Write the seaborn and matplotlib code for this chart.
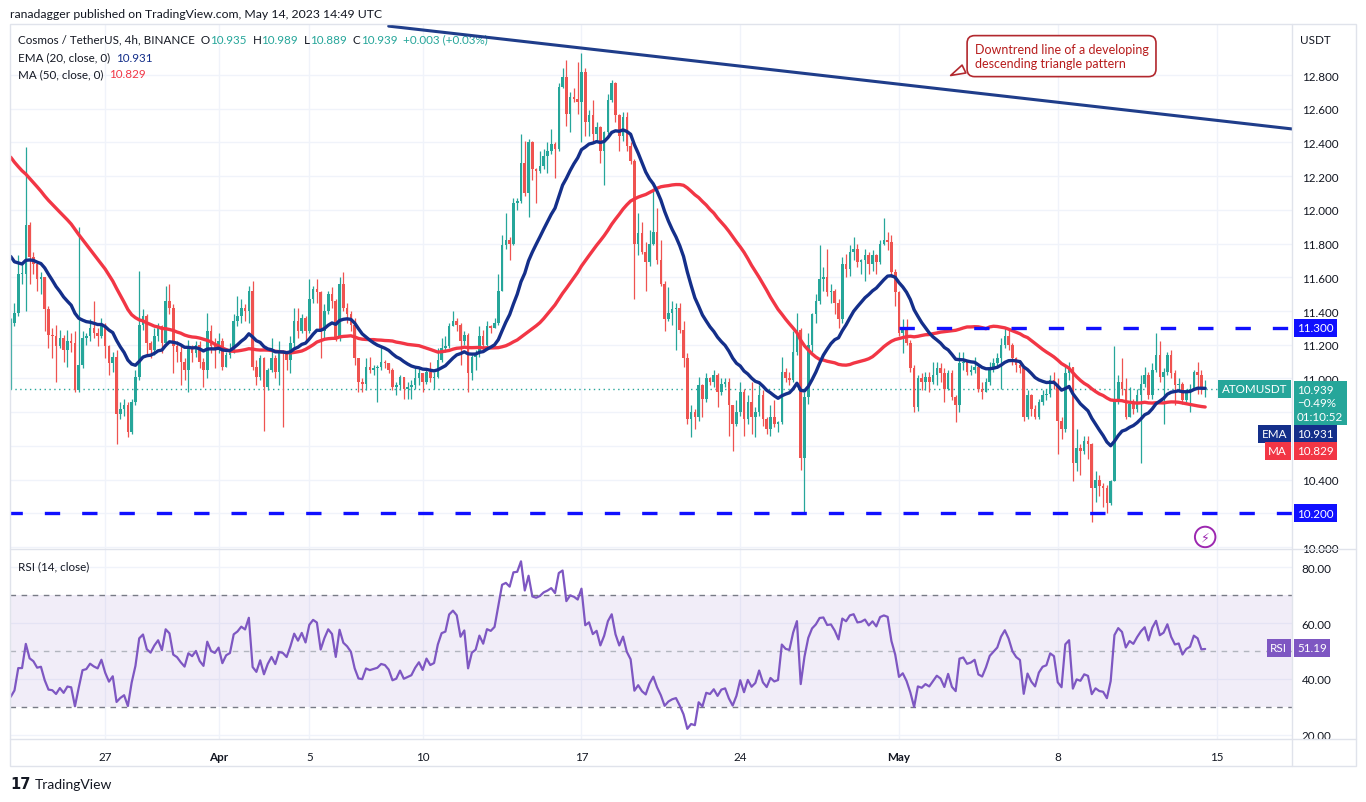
# ATOM/USDT 4h chart (TradingView style) with EMA20, MA50 and RSI14
import numpy as np
import pandas as pd
import matplotlib
matplotlib.use("Agg")
import matplotlib.pyplot as plt
import matplotlib.transforms as mtransforms
from matplotlib.lines import Line2D
from matplotlib.patches import Rectangle
from matplotlib.ticker import FormatStrFormatter, FuncFormatter
import seaborn as sns

# ---- data (4h candles, first candle 2023-03-22 20:00 UTC) ----
start_time = "2023-03-22 20:00"
first_open = 11.30

close = [
    11.33, 11.39, 11.62, 11.62, 11.91, 11.72, 11.68, 11.59, 11.60, 11.41,
    11.26, 11.25, 11.19, 11.24, 11.17, 11.22, 11.21, 10.93, 11.08, 11.24,
    11.25, 11.30, 11.27, 11.25, 11.32, 11.19, 11.09, 11.13, 10.79, 10.82,
    10.84, 10.68, 10.86, 11.01, 11.32, 11.37, 11.21, 11.17, 11.25, 11.31,
    11.21, 11.46, 11.42, 11.19, 11.16, 11.10, 11.05, 11.18, 11.15, 11.20,
    11.10, 11.05, 11.28, 11.19, 11.17, 11.22, 11.07, 11.14, 11.16, 11.34,
    11.37, 11.42, 11.40, 11.52, 11.07, 11.01, 11.12, 10.95, 11.05, 11.12,
    11.04, 11.16, 11.15, 11.11, 11.21, 11.34, 11.28, 11.36, 11.28, 11.47,
    11.53, 11.51, 11.28, 11.40, 11.50, 11.46, 11.24, 11.56, 11.42, 11.38,
    11.32, 11.12, 10.98, 10.97, 11.07, 11.05, 11.06, 11.07, 11.10, 11.09,
    11.05, 10.95, 10.96, 11.01, 10.94, 10.95, 10.96, 11.00, 11.03, 10.98,
    11.04, 11.00, 11.01, 11.11, 11.18, 11.19, 11.31, 11.34, 11.32, 11.22,
    11.26, 11.03, 11.13, 11.15, 11.25, 11.20, 11.31, 11.30, 11.33, 11.52,
    11.79, 11.82, 11.80, 12.04, 12.05, 12.28, 12.10, 12.40, 12.24, 12.23,
    12.26, 12.32, 12.35, 12.39, 12.36, 12.73, 12.79, 12.57, 12.67, 12.66,
    12.64, 12.82, 12.52, 12.56, 12.45, 12.49, 12.35, 12.46, 12.65, 12.75,
    12.56, 12.44, 12.55, 12.38, 12.29, 11.80, 11.86, 11.75, 11.69, 11.80,
    11.87, 11.70, 11.56, 11.35, 11.39, 11.41, 11.42, 11.29, 11.12, 10.76,
    10.80, 10.77, 10.96, 10.88, 11.00, 10.98, 11.02, 10.92, 10.97, 10.98,
    10.84, 10.73, 10.80, 10.92, 10.76, 10.86, 10.77, 10.80, 10.90, 10.76,
    10.70, 10.77, 10.73, 10.74, 11.04, 11.00, 10.99, 11.16, 11.29, 10.53,
    10.89, 11.20, 11.38, 11.46, 11.59, 11.60, 11.51, 11.52, 11.45, 11.35,
    11.68, 11.65, 11.75, 11.77, 11.69, 11.70, 11.73, 11.68, 11.73, 11.69,
    11.80, 11.82, 11.81, 11.63, 11.51, 11.27, 11.30, 11.21, 11.06, 10.83,
    11.00, 10.98, 11.01, 10.98, 11.02, 11.06, 11.03, 10.94, 11.03, 10.89,
    10.84, 11.09, 11.10, 11.04, 11.05, 11.07, 10.94, 10.92, 10.98, 11.06,
    11.09, 11.12, 11.20, 11.25, 11.20, 11.12, 11.08, 11.06, 10.77, 10.90,
    10.82, 10.77, 10.86, 10.90, 10.91, 10.99, 10.97, 10.75, 10.70, 11.03,
    11.07, 10.50, 10.59, 10.57, 10.63, 10.61, 10.35, 10.40, 10.36, 10.35,
    10.26, 10.39, 10.88, 10.98, 10.94, 10.77, 10.85, 10.82, 10.90, 10.97,
    11.02, 10.90, 11.05, 11.14, 11.01, 11.04, 11.14, 11.03, 10.96, 10.97,
    10.87, 10.92, 10.94, 11.04, 11.02, 10.936, 10.939,
]

high = [
    11.36, 11.45, 11.73, 11.69, 12.37, 11.93, 11.75, 11.68, 11.63, 11.60,
    11.43, 11.30, 11.32, 11.29, 11.26, 11.29, 11.27, 11.28, 11.90, 11.28,
    11.27, 11.35, 11.46, 11.30, 11.36, 11.33, 11.20, 11.16, 11.17, 10.86,
    10.88, 10.86, 10.88, 11.05, 11.64, 11.41, 11.38, 11.22, 11.30, 11.33,
    11.32, 11.55, 11.56, 11.44, 11.22, 11.20, 11.12, 11.23, 11.20, 11.22,
    11.22, 11.12, 11.39, 11.32, 11.24, 11.27, 11.24, 11.16, 11.21, 11.38,
    11.49, 11.47, 11.44, 11.55, 11.58, 11.11, 11.14, 11.13, 11.06, 11.24,
    11.14, 11.22, 11.17, 11.16, 11.25, 11.42, 11.42, 11.38, 11.37, 11.59,
    11.55, 11.59, 11.52, 11.44, 11.52, 11.54, 11.47, 11.60, 11.63, 11.45,
    11.40, 11.36, 11.12, 11.00, 11.12, 11.13, 11.08, 11.08, 11.19, 11.11,
    11.08, 11.06, 10.98, 11.02, 11.00, 10.98, 10.99, 11.06, 11.06, 11.03,
    11.06, 11.10, 11.04, 11.18, 11.24, 11.25, 11.33, 11.40, 11.36, 11.33,
    11.28, 11.27, 11.14, 11.17, 11.31, 11.29, 11.34, 11.32, 11.36, 11.62,
    11.85, 11.98, 11.84, 12.07, 12.07, 12.45, 12.41, 12.42, 12.41, 12.25,
    12.35, 12.36, 12.40, 12.48, 12.40, 12.75, 12.84, 12.89, 12.70, 12.72,
    12.88, 12.93, 12.84, 12.59, 12.65, 12.52, 12.50, 12.47, 12.69, 12.77,
    12.76, 12.57, 12.58, 12.58, 12.40, 12.30, 11.98, 11.93, 11.81, 11.88,
    12.12, 12.01, 11.82, 11.58, 11.54, 11.46, 11.45, 11.45, 11.34, 11.15,
    10.84, 10.82, 11.01, 10.97, 11.03, 11.01, 11.05, 11.03, 11.00, 11.00,
    11.00, 10.84, 10.87, 10.98, 10.94, 10.90, 10.98, 10.83, 10.96, 10.93,
    10.77, 10.84, 10.87, 10.75, 11.13, 11.06, 11.04, 11.28, 11.39, 11.30,
    10.92, 11.27, 11.39, 11.50, 11.79, 11.66, 11.77, 11.56, 11.53, 11.47,
    11.72, 11.74, 11.79, 11.84, 11.80, 11.71, 11.77, 11.75, 11.76, 11.74,
    11.82, 11.95, 11.87, 11.85, 11.65, 11.52, 11.35, 11.35, 11.23, 11.08,
    11.02, 11.03, 11.04, 11.04, 11.10, 11.10, 11.09, 11.06, 11.05, 11.05,
    10.90, 11.16, 11.16, 11.11, 11.08, 11.13, 11.08, 10.98, 11.00, 11.10,
    11.12, 11.15, 11.24, 11.30, 11.29, 11.21, 11.13, 11.10, 11.07, 10.93,
    10.91, 10.84, 10.88, 10.93, 10.94, 11.02, 11.04, 11.00, 10.77, 11.08,
    11.10, 11.04, 10.70, 10.61, 10.66, 10.66, 10.62, 10.45, 10.43, 10.38,
    10.37, 10.40, 11.19, 11.02, 11.12, 11.00, 10.95, 10.88, 10.94, 11.02,
    11.07, 11.04, 11.09, 11.27, 11.22, 11.06, 11.16, 11.17, 11.05, 11.00,
    10.98, 10.94, 10.97, 11.05, 11.10, 11.05, 10.989,
]

low = [
    10.94, 11.31, 11.37, 11.56, 11.40, 11.56, 11.62, 11.52, 11.50, 11.28,
    11.18, 11.12, 10.98, 11.18, 11.10, 11.07, 11.16, 10.92, 10.92, 11.06,
    11.20, 11.22, 11.24, 11.19, 11.24, 11.12, 11.02, 11.04, 10.61, 10.76,
    10.78, 10.65, 10.67, 10.84, 10.99, 11.29, 11.14, 11.12, 11.14, 11.22,
    11.15, 11.19, 11.38, 11.03, 11.10, 10.96, 10.99, 10.92, 11.10, 11.13,
    11.06, 10.95, 11.00, 11.15, 11.06, 11.15, 11.05, 11.07, 11.12, 11.15,
    11.31, 11.33, 11.34, 11.33, 11.05, 10.96, 10.99, 10.69, 10.93, 11.04,
    11.00, 10.96, 10.71, 11.05, 11.03, 11.18, 11.24, 11.27, 11.22, 11.27,
    11.45, 11.45, 11.12, 11.24, 11.38, 11.42, 11.22, 11.22, 11.40, 11.33,
    11.28, 11.08, 10.92, 10.92, 10.93, 11.03, 11.02, 10.86, 11.05, 11.06,
    11.03, 10.93, 10.90, 10.93, 10.88, 10.88, 10.88, 10.94, 10.96, 10.92,
    10.97, 10.98, 10.94, 11.00, 11.10, 11.16, 11.18, 11.31, 11.28, 11.08,
    11.20, 10.92, 10.99, 11.05, 11.13, 11.17, 11.19, 11.27, 11.30, 11.32,
    11.52, 11.77, 11.70, 11.79, 12.00, 12.04, 12.08, 11.96, 12.18, 12.04,
    12.22, 12.24, 12.22, 12.33, 12.19, 12.35, 12.72, 12.50, 12.46, 12.64,
    12.57, 12.40, 12.44, 12.44, 12.40, 12.41, 12.28, 12.15, 12.45, 12.64,
    12.52, 12.35, 12.41, 12.35, 12.27, 11.47, 11.73, 11.74, 11.52, 11.67,
    11.79, 11.68, 11.55, 11.28, 11.34, 11.32, 11.17, 11.27, 11.07, 10.73,
    10.65, 10.70, 10.75, 10.77, 10.86, 10.96, 10.95, 10.83, 10.90, 10.95,
    10.66, 10.57, 10.72, 10.78, 10.66, 10.73, 10.67, 10.65, 10.78, 10.72,
    10.67, 10.66, 10.71, 10.68, 10.73, 10.98, 10.96, 10.98, 11.14, 10.46,
    10.20, 10.85, 11.16, 11.33, 11.44, 11.52, 11.49, 11.45, 11.38, 11.30,
    11.33, 11.60, 11.61, 11.70, 11.66, 11.62, 11.58, 11.62, 11.64, 11.62,
    11.68, 11.79, 11.76, 11.60, 11.43, 11.25, 11.15, 11.20, 11.04, 10.80,
    10.81, 10.93, 10.93, 10.92, 10.97, 10.96, 10.98, 10.86, 10.93, 10.87,
    10.74, 10.80, 11.05, 11.02, 11.02, 11.03, 10.92, 10.88, 10.92, 10.96,
    11.04, 11.06, 10.94, 11.18, 11.17, 11.08, 11.04, 11.03, 10.75, 10.76,
    10.78, 10.76, 10.76, 10.84, 10.87, 10.89, 10.94, 10.55, 10.64, 10.68,
    10.99, 10.39, 10.45, 10.43, 10.55, 10.52, 10.15, 10.27, 10.30, 10.24,
    10.20, 10.25, 10.39, 10.85, 10.90, 10.76, 10.77, 10.79, 10.80, 10.50,
    10.95, 10.88, 10.88, 11.04, 10.98, 10.73, 11.02, 11.00, 10.84, 10.92,
    10.85, 10.86, 10.80, 10.99, 10.91, 10.91, 10.889,
]

# closes before the visible window (estimated), only used to warm up EMA/MA/RSI
warmup_close = [
    12.95, 12.88, 12.92, 12.85, 12.90, 12.97, 12.93, 12.86, 12.90, 12.84,
    12.55, 12.42, 12.35, 12.40, 12.30, 12.38, 12.45, 12.52,
    12.62, 12.70, 12.75, 12.68, 12.72, 12.80, 12.74, 12.66,
    12.85, 12.92, 12.96, 12.88, 12.90, 12.83,
    12.40, 11.90, 11.95, 11.70, 11.80, 11.62, 11.75,
    11.55, 11.68, 11.50, 11.66, 11.48, 11.62, 11.45, 11.60, 11.52, 11.38, 11.30,
]

levels = [11.30, 10.20]
level_from = ["2023-05-01 00:00", "2023-03-22 16:00"]
trend_time = ["2023-04-08 12:00", "2023-05-18 08:00"]
trend_price = [13.09, 12.48]
date_ticks = ["2023-03-27", "2023-04-01", "2023-04-05", "2023-04-10",
              "2023-04-17", "2023-04-24", "2023-05-01", "2023-05-08", "2023-05-15"]
date_labels = ["27", "Apr", "5", "10", "17", "24", "May", "8", "15"]
price_ticks = [10.0, 10.2, 10.4, 10.6, 10.8, 11.0, 11.2, 11.4, 11.6, 11.8,
               12.0, 12.2, 12.4, 12.6, 12.8]
covered_ticks = [10.2, 10.6, 10.8]  # hidden behind the price tags
last_price = 10.939

# ---- derived series ----
close = np.array(close)
high = np.array(high)
low = np.array(low)
n = len(close)
t0 = pd.Timestamp(start_time)
step = pd.Timedelta(hours=4)
def to_k(s):
    return (pd.Timestamp(s) - t0) / step

k = np.arange(n)
open_ = np.r_[first_open, close[:-1]]
open_[-1] = 10.935
high = np.maximum(high, np.maximum(open_, close))
low = np.minimum(low, np.minimum(open_, close))

full = pd.Series(np.r_[warmup_close, close])
delta = full.diff()
gain = delta.clip(lower=0).ewm(alpha=1 / 14, adjust=False).mean()
loss = (-delta.clip(upper=0)).ewm(alpha=1 / 14, adjust=False).mean()
df = pd.DataFrame({
    "k": k,
    "ema": full.ewm(span=20, adjust=False).mean().iloc[-n:].to_numpy(),
    "ma": full.rolling(50).mean().iloc[-n:].to_numpy(),
    "rsi": (100 - 100 / (1 + gain / loss)).iloc[-n:].to_numpy(),
})

# ---- style ----
UP, DOWN = "#26a69a", "#ef5350"
EMA_C, MA_C, RSI_C = "#142f8a", "#f23645", "#7e57c2"
TXT, GRID, FRAME = "#131722", "#f0f3fa", "#e0e3eb"

sns.set_theme(style="white")
plt.rcParams["font.family"] = ["Lato", "DejaVu Sans"]

W, H = 1366, 803
fig = plt.figure(figsize=(W / 100, H / 100), dpi=100)
fig.patch.set_facecolor("white")
fx = lambda px: px / W
fy = lambda py: 1 - py / H

ax = fig.add_axes([fx(10), fy(550), fx(1292) - fx(10), fy(25) - fy(550)])
ax_rsi = fig.add_axes([fx(10), fy(740), fx(1292) - fx(10), fy(550) - fy(740)], sharex=ax)

# ---- candles ----
colors = np.where(close >= open_, UP, DOWN)
ax.vlines(k, low, high, colors=colors, lw=0.9, zorder=3)
body = np.maximum(np.abs(close - open_), 0.008)
ax.bar(k, body, bottom=np.minimum(open_, close), width=0.68, color=colors, lw=0, zorder=4)

sns.lineplot(data=df, x="k", y="ma", ax=ax, color=MA_C, lw=2.4, zorder=5, legend=False)
sns.lineplot(data=df, x="k", y="ema", ax=ax, color=EMA_C, lw=2.4, zorder=5, legend=False)

# trend line and horizontal levels
ax.plot([to_k(t) for t in trend_time], trend_price, color="#1f3d8a", lw=2.2, zorder=6,
        solid_capstyle="round")
for lv, st in zip(levels, level_from):
    ax.hlines(lv, to_k(st), 345, color="#1010ff", lw=2.4, linestyles=(0, (4.6, 6.6)), zorder=6)
ax.axhline(last_price, color=UP, lw=1, ls=(0, (1, 2.5)), zorder=2)

ax.set_xlim(-0.185, 338.97)
ax.set_ylim(9.9886, 13.1025)
ax.yaxis.tick_right()
ax.set_yticks(price_ticks)
ax.yaxis.set_major_formatter(FuncFormatter(
    lambda v, p: "" if any(abs(v - c) < 1e-6 for c in covered_ticks) else f"{v:.3f}"))
ax.tick_params(axis="y", length=0, pad=7, labelsize=8.4, labelcolor=TXT)
ax.tick_params(axis="x", length=0, labelbottom=False)
ax.set_xlabel("")
ax.set_ylabel("")

# ---- RSI pane ----
ax_rsi.axhspan(30, 70, color=RSI_C, alpha=0.1, lw=0, zorder=1)
for lv, c in [(70, "#787b86"), (50, "#b2b5be"), (30, "#787b86")]:
    ax_rsi.axhline(lv, color=c, lw=1, ls=(0, (4, 4)), zorder=2)
sns.lineplot(data=df, x="k", y="rsi", ax=ax_rsi, color=RSI_C, lw=1.6, zorder=5, legend=False)
ax_rsi.set_ylim(18.57, 86.43)
ax_rsi.yaxis.tick_right()
ax_rsi.set_yticks([20, 40, 60, 80])
ax_rsi.yaxis.set_major_formatter(FormatStrFormatter("%.2f"))
ax_rsi.tick_params(axis="y", length=0, pad=7, labelsize=8.4, labelcolor=TXT)
ax_rsi.set_xticks([to_k(d) for d in date_ticks])
ax_rsi.set_xticklabels(date_labels)
ax_rsi.tick_params(axis="x", length=0, pad=9, labelsize=8.4, labelcolor=TXT)
for lab in ax_rsi.get_xticklabels():
    if lab.get_text() in ("Apr", "May"):
        lab.set_fontweight("bold")
ax_rsi.set_xlabel("")
ax_rsi.set_ylabel("")

for a in (ax, ax_rsi):
    a.set_facecolor("white")
    a.grid(True, color=GRID, lw=1, zorder=0)
    a.set_axisbelow(True)
    for s in a.spines.values():
        s.set_visible(False)

# ---- frame lines ----
fig.add_artist(Rectangle((fx(10), fy(767)), fx(1356) - fx(10), fy(25) - fy(767),
                         transform=fig.transFigure, fill=False, ec=FRAME, lw=1))
for py in (550, 740):
    fig.add_artist(Line2D([fx(10), fx(1356)], [fy(py), fy(py)], color=FRAME, lw=1))
fig.add_artist(Line2D([fx(1292), fx(1292)], [fy(25), fy(767)], color=FRAME, lw=1))

# ---- texts ----
fig.text(fx(10), fy(14), "ranadagger published on TradingView.com, May 14, 2023 14:49 UTC",
         fontsize=8.8, color=TXT, va="center")
fig.text(fx(1300), fy(41), "USDT", fontsize=8.4, color=TXT, va="center")
fig.text(fx(10), fy(785), "17", fontsize=10.5, fontweight="heavy", color=TXT, va="center",
         family=["DejaVu Sans"])
fig.text(fx(35), fy(785), "TradingView", fontsize=10, color=TXT, va="center")


def chain(x, y, parts, fs=8.4):
    t = fig.text(fx(x), fy(y), parts[0][0], color=parts[0][1], fontsize=fs, va="center")
    for s, c in parts[1:]:
        t = ax.annotate(s, xy=(1, 0), xycoords=t, xytext=(0, 0), textcoords="offset points",
                        va="bottom", ha="left", color=c, fontsize=fs, annotation_clip=False)


chain(18, 40, [("Cosmos / TetherUS, 4h, BINANCE  O", TXT), ("10.935", UP), ("  H", TXT),
               ("10.989", UP), ("  L", TXT), ("10.889", UP), ("  C", TXT), ("10.939", UP),
               ("  +0.003 (+0.03%)", UP)])
chain(18, 58, [("EMA (20, close, 0)  ", TXT), ("10.931", EMA_C)])
chain(18, 75, [("MA (50, close, 0)  ", TXT), ("10.829", MA_C)])
chain(18, 567, [("RSI (14, close)  ", TXT), ("51.19", RSI_C)])

# callout
ax.annotate("Downtrend line of a developing\ndescending triangle pattern",
            xy=(to_k("2023-05-03 04:00"), 12.79), xytext=(to_k("2023-05-08 04:00"), 12.912),
            ha="center", va="center", multialignment="left", fontsize=9, color="#b71c1c",
            bbox=dict(boxstyle="round,pad=0.6,rounding_size=0.6", fc="white", ec="#b2282e", lw=1.2),
            arrowprops=dict(arrowstyle="wedge,tail_width=0.7,shrink_factor=0.5", fc="white",
                            ec="#b2282e", lw=1.2, relpos=(0.0, 0.2)),
            zorder=8)

# lightning badge
ax.text(to_k("2023-05-14 12:00"), 10.06, "\u26a1", ha="center", va="center", color="#9c27b0",
        fontsize=9, family=["DejaVu Sans"], zorder=8,
        bbox=dict(boxstyle="circle,pad=0.3", fc="white", ec="#9c27b0", lw=1.4))

# right-hand tags
ax_x = lambda px: (px - 10) / (1292 - 10)


def tag(a, x, y, text, fc, ha="left", fs=8.4):
    tr = mtransforms.blended_transform_factory(a.transAxes, a.transData)
    a.text(x, y, text, transform=tr, ha=ha, va="center", color="white", fontsize=fs,
           bbox=dict(boxstyle="square,pad=0.3", fc=fc, ec="none"), clip_on=False, zorder=10,
           linespacing=1.25)


for lv in levels:
    tag(ax, ax_x(1297), lv, f"{lv:.3f}", "#1010ff")
tag(ax, ax_x(1297), last_price - 0.084, "10.939\n\u22120.49%\n01:10:52", UP)
tag(ax, ax_x(1287), last_price, "ATOMUSDT", UP, ha="right")
tag(ax, ax_x(1297), last_price - 0.268, "10.931", EMA_C)
tag(ax, ax_x(1287), last_price - 0.268, "EMA", EMA_C, ha="right")
tag(ax, ax_x(1297), last_price - 0.369, "10.829", MA_C)
tag(ax, ax_x(1287), last_price - 0.369, "MA", MA_C, ha="right")
tag(ax_rsi, ax_x(1297), 51.19, "51.19", RSI_C)
tag(ax_rsi, ax_x(1287), 51.19, "RSI", RSI_C, ha="right")

fig.savefig("out.png", dpi=100, facecolor="white")
